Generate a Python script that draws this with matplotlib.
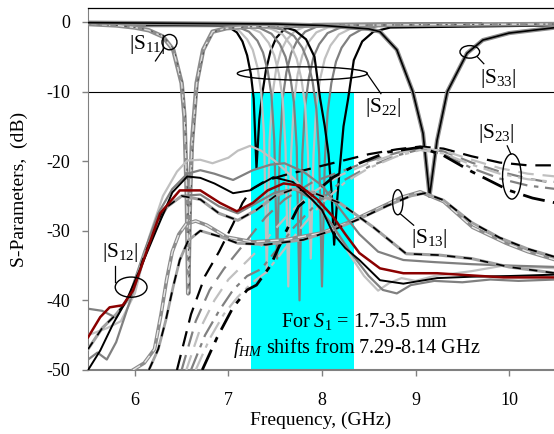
import matplotlib
matplotlib.use("Agg")
import matplotlib.pyplot as plt
from matplotlib.patches import Ellipse

plt.rcParams['font.family'] = ['Liberation Serif', 'DejaVu Serif']
plt.rcParams['mathtext.fontset'] = 'custom'
plt.rcParams['mathtext.rm'] = 'Liberation Serif'
plt.rcParams['mathtext.it'] = 'Liberation Serif:italic'
plt.rcParams['axes.unicode_minus'] = False

# ---------------- data ----------------
# shaded f_HM band
band_lo, band_hi = 7.24, 8.34
band_bottom, band_top = -50, -10

# |S11| (dip near 6.56 GHz)
s11_x = [5.5, 5.8, 6.0, 6.15, 6.3, 6.41, 6.5, 6.53, 6.555, 6.57, 6.59, 6.61, 6.66,
         6.73, 6.83, 6.98, 7.2, 7.5, 8.0, 9.0, 10.5]
s11_y = [-0.3, -0.5, -0.8, -1.2, -2.1, -4.0, -8.8, -13.6, -25, -39, -25, -17.4, -8.8,
         -4.0, -1.4, -0.9, -0.7, -0.6, -0.5, -0.4, -0.3]

# |S33| (dip near 9.15 GHz)
s33_x = [5.5, 6.5, 7.5, 8.0, 8.3, 8.5, 8.62, 8.8, 8.97, 9.08, 9.15, 9.23, 9.34,
         9.55, 9.72, 10.0, 10.5]
s33_y = [-0.1, -0.2, -0.3, -0.5, -0.8, -1.0, -1.4, -4.0, -10, -16, -25, -17, -10,
         -4.5, -2.6, -1.6, -0.8]

# |S22| resonances for S1 = 1.7 ... 3.5 mm (offsets from each centre, GHz)
s22_dx = [-2.0, -0.6, -0.42, -0.3, -0.21, -0.15, -0.1, -0.06, -0.03, 0,
          0.03, 0.06, 0.1, 0.15, 0.21, 0.3, 0.42, 0.6, 2.4]
s22_centres = [7.30, 7.41, 7.52, 7.64, 7.76, 7.88, 8.00, 8.13]
s22_colors = ['black', 'silver', 'grey', 'silver', 'grey', 'silver', 'grey', 'black']
s22_db = [
    [-0.2, -0.3, -0.5, -0.7, -1.5, -2.8, -4.8, -7.5, -11, -21, -14, -10.5, -7, -4.2, -2.3, -1.0, -0.5, -0.3, -0.2],
    [-0.3, -0.3, -0.6, -1.2, -2.5, -4.0, -6.5, -10, -16, -36, -17, -10.5, -6.8, -4.2, -2.6, -1.3, -0.6, -0.3, -0.3],
    [-0.4, -0.4, -0.7, -1.4, -2.7, -4.4, -7.0, -10.5, -17, -34, -18, -11, -7.2, -4.5, -2.8, -1.4, -0.7, -0.4, -0.3],
    [-0.2, -0.4, -0.8, -1.5, -3.0, -4.8, -7.5, -11, -18, -38, -19, -11.5, -7.5, -4.8, -3.0, -1.5, -0.8, -0.4, -0.3],
    [-0.5, -0.5, -0.9, -1.7, -3.2, -5.0, -7.8, -11.5, -18, -40, -19, -12, -8.0, -5.0, -3.2, -1.6, -0.9, -0.5, -0.4],
    [-0.3, -0.5, -1.0, -1.8, -3.4, -5.3, -8.2, -12, -19, -34, -19, -12, -8.2, -5.3, -3.4, -1.8, -1.0, -0.5, -0.3],
    [-0.6, -0.6, -1.1, -2.0, -3.7, -5.7, -8.6, -12.5, -19, -38, -20, -13, -8.8, -5.7, -3.7, -2.0, -1.1, -0.6, -0.4],
    [-0.4, -0.5, -1.2, -2.5, -5.0, -11, -15, -19, -24, -32, -26, -21, -15, -11, -5.5, -2.8, -1.4, -0.8, -0.5],
]

# |S12| family (solid)
s12_black_x = [5.5, 5.63, 5.77, 5.91, 6.05, 6.23, 6.4, 6.56, 6.7, 6.85, 7.05, 7.23, 7.48, 7.69,
               7.87, 8.0, 8.12, 8.25, 8.4, 8.62, 8.87, 9.05, 9.23, 9.6, 10.0, 10.5]
s12_black_y = [-50, -47.2, -43.3, -40, -35.7, -29.9, -24.5, -22.2, -22.4, -23.2, -24.6, -24.2, -22.3, -23,
               -25.2, -27, -30.4, -32.5, -34.2, -37.1, -37.6, -37.2, -36.8, -36.6, -36.5, -36.3]
s12_red_x = [5.5, 5.63, 5.73, 5.87, 5.98, 6.13, 6.27, 6.48, 6.7, 6.91, 7.09, 7.26, 7.42, 7.59,
             7.76, 7.95, 8.12, 8.25, 8.4, 8.62, 8.87, 9.23, 9.58, 9.94, 10.5]
s12_red_y = [-45.3, -42.4, -41, -40.7, -38.6, -32.8, -27.5, -24.2, -24.2, -26, -27.2, -26, -24.2, -23.2,
             -23.5, -25.5, -28, -30.5, -33.2, -35.4, -36.1, -36.1, -36.4, -36.7, -36.7]
s12_grey_x = [5.5, 5.65, 5.8, 5.95, 6.1, 6.25, 6.4, 6.56, 6.7, 6.85, 7.05, 7.26, 7.45, 7.6,
              7.8, 8.0, 8.2, 8.4, 8.6, 8.87, 9.2, 9.6, 10.0, 10.5]
s12_grey_y = [-41.2, -41.5, -42.5, -39, -33, -27.5, -24, -21.8, -21.3, -21.8, -22.7, -21.3, -20.5, -20.3,
              -21.5, -23.5, -27, -30.5, -33, -34.2, -34.5, -34.8, -35, -35.2]
s12_light_x = [5.5, 5.7, 5.85, 6.0, 6.15, 6.3, 6.45, 6.56, 6.7, 6.83, 7.0, 7.1, 7.23, 7.35, 7.5,
               7.7, 7.9, 8.1, 8.3, 8.45, 8.6, 8.72, 8.85, 9.0, 9.2, 9.6, 9.94, 10.5]
s12_light_y = [-45, -44, -43, -39, -31, -25, -21.5, -19.9, -19.8, -20.3, -19.5, -18.5, -17.8, -18.5, -20,
               -22.5, -25.5, -29, -33.5, -36.5, -38.6, -37.5, -36.8, -37.2, -36.5, -35.8, -35, -35.4]
s12_low_x = [5.5, 5.6, 5.7, 5.8, 5.9, 6.05, 6.2, 6.35, 6.5, 6.7, 6.9, 7.1, 7.3, 7.5, 7.7, 7.9,
             8.1, 8.3, 8.5, 8.65, 8.8, 8.95, 9.2, 9.5, 9.8, 10.1, 10.5]
s12_low_y = [-48.5, -47.5, -48.5, -46, -42, -36, -30, -26.5, -25, -24.8, -26.5, -27.5, -26, -24.5, -24, -25.5,
             -29, -33, -36.5, -38.5, -39, -37.8, -37.2, -37.4, -37, -37.2, -37]
s12_dash_x = [5.5, 5.65, 5.8, 5.95, 6.1, 6.3, 6.5, 6.7, 6.9, 7.1, 7.3, 7.5, 7.7, 7.9, 8.19,
              8.55, 8.9, 9.26, 9.6, 10.0, 10.5]
s12_dash_y = [-47, -44, -42, -39.5, -33.5, -27, -25, -25.5, -27.5, -28.5, -27, -25, -24, -24.5, -26,
              -29.5, -33.3, -33.5, -34, -35.2, -36.1]

# |S13| family
s13_a_x = [5.98, 6.1, 6.21, 6.28, 6.34, 6.4, 6.47, 6.55, 6.65, 6.77, 6.98, 7.26, 7.6, 8.0,
           8.3, 8.6, 8.85, 9.05, 9.3, 9.61, 9.97, 10.2, 10.5]
s13_a_y = [-50, -49, -47, -42, -37, -33, -30.5, -29, -28.6, -29.2, -30.9, -31.6, -31.3, -30.3,
           -28.7, -26.8, -25.2, -24.4, -25.8, -29.5, -31.8, -33, -34.2]
s13_b_x = [6.15, 6.25, 6.33, 6.41, 6.48, 6.57, 6.7, 6.9, 7.1, 7.4, 7.8, 8.1, 8.4, 8.7,
           8.95, 9.1, 9.3, 9.6, 9.9, 10.2, 10.5]
s13_b_y = [-50, -47, -42.9, -38, -34.2, -31.4, -30, -30.8, -31.8, -32, -31.3, -30, -28.3, -26.4,
           -25, -24.6, -25.6, -28.8, -31, -32.6, -33.8]

# |S23| family (dashed)
s23_x = [
    [6.45, 6.6, 6.75, 6.9, 7.05, 7.15, 7.25, 7.4, 7.6, 7.9, 8.2, 8.5, 8.8, 9.05, 9.3, 9.6, 9.9, 10.2, 10.5],
    [6.5, 6.65, 6.8, 6.95, 7.1, 7.25, 7.4, 7.6, 7.9, 8.2, 8.5, 8.8, 9.05, 9.3, 9.6, 9.9, 10.2, 10.5],
    [6.55, 6.7, 6.85, 7.0, 7.15, 7.3, 7.45, 7.65, 7.9, 8.2, 8.5, 8.8, 9.05, 9.3, 9.6, 9.9, 10.2, 10.5],
    [6.6, 6.75, 6.9, 7.05, 7.2, 7.35, 7.5, 7.7, 7.95, 8.2, 8.5, 8.8, 9.05, 9.3, 9.6, 9.9, 10.2, 10.5],
    [6.65, 6.8, 6.95, 7.1, 7.25, 7.4, 7.55, 7.75, 8.0, 8.25, 8.5, 8.8, 9.05, 9.3, 9.6, 9.9, 10.2, 10.5],
    [6.72, 6.88, 7.05, 7.2, 7.3, 7.45, 7.6, 7.75, 7.9, 8.12, 8.4, 8.7, 9.05, 9.3, 9.6, 10.0, 10.25, 10.5],
]
s23_y = [
    [-50, -42, -36.5, -33, -29, -26, -24, -22.8, -22, -21, -20, -19, -18.3, -17.9, -18.2, -19.3, -20.2, -20.6, -20.6],
    [-50, -43, -38.5, -35.5, -33, -30.5, -28, -25.5, -23, -21.5, -20, -18.8, -18.1, -18.6, -20.2, -21.5, -22.5, -23.2],
    [-50, -44, -40, -37, -35, -33, -30.5, -27.5, -24.5, -22, -20.3, -18.9, -18.2, -18.5, -19.8, -21, -21.8, -22.2],
    [-50, -45, -41.5, -38.5, -36.5, -35.5, -33, -29.5, -26, -23, -20.8, -19.2, -18.3, -19, -21, -22.5, -23.5, -24],
    [-50, -45.5, -42, -39.5, -37.5, -36, -33.5, -30, -26, -23, -21, -19.3, -18.4, -18.9, -20.5, -21.8, -22.6, -23],
    [-50, -45.3, -41, -38.5, -37.8, -35, -30.5, -26.5, -24.8, -22.3, -20.3, -18.7, -18, -19.2, -21.5, -24.2, -25.3, -26],
]
s23_colors = ['black', 'grey', 'silver', 'grey', 'silver', 'black']

# ---------------- figure ----------------
fig = plt.figure(figsize=(5.54, 4.34), dpi=100)
ax = fig.add_axes([0.159, 0.1475, 0.841, 0.834])

ax.fill_between([band_lo, band_hi], band_bottom, band_top, color='#00FFFF', lw=0, zorder=0)
ax.axhline(-10, color='black', lw=0.8, zorder=1)

# S22 resonances
for c, col, db in zip(s22_centres, s22_colors, s22_db):
    xs = [c + d for d in s22_dx]
    ax.plot(xs, db, color=col, lw=1.6, zorder=3)

# S11
ax.plot(s11_x, s11_y, color='#8c8c8c', lw=3.2, zorder=3)
ax.plot(s11_x, s11_y, color='#dddddd', lw=1.0, ls=(0, (6, 4)), zorder=3)
ax.plot([x + 0.01 for x in s11_x], s11_y, color='#555555', lw=0.8, ls=(0, (2, 6)), zorder=3)

# S33
ax.plot(s33_x, s33_y, color='#8c8c8c', lw=3.0, zorder=3)
ax.plot(s33_x, s33_y, color='black', lw=1.2, zorder=3)

# S23
s23_styles = [(0, (7, 4)), (0, (7, 4)), (0, (7, 4)), (0, (8, 3, 2, 3)), (0, (8, 3, 2, 3)), (0, (8, 3, 2, 3))]
s23_lw = [1.6, 1.6, 1.6, 1.6, 1.6, 2.0]
for xs, ys, col, st, w in zip(s23_x, s23_y, s23_colors, s23_styles, s23_lw):
    ax.plot(xs, ys, color=col, lw=w, ls=st, zorder=4)

# S13
ax.plot(s13_a_x, s13_a_y, color='#8c8c8c', lw=2.6, zorder=4)
ax.plot(s13_a_x, s13_a_y, color='#e6e6e6', lw=1.0, ls=(0, (6, 4)), zorder=4)
ax.plot(s13_b_x, s13_b_y, color='#a0a0a0', lw=2.0, zorder=4)
ax.plot(s13_b_x, s13_b_y, color='black', lw=1.3, ls=(0, (5, 5)), zorder=4)

# S12
ax.plot(s12_light_x, s12_light_y, color='silver', lw=1.6, zorder=5)
ax.plot(s12_low_x, s12_low_y, color='grey', lw=1.6, zorder=5)
ax.plot(s12_grey_x, s12_grey_y, color='grey', lw=1.6, zorder=5)
ax.plot(s12_dash_x, s12_dash_y, color='#a0a0a0', lw=2.2, zorder=5)
ax.plot(s12_dash_x, s12_dash_y, color='black', lw=1.2, ls=(0, (5, 5)), zorder=5)
ax.plot(s12_black_x, s12_black_y, color='black', lw=1.4, zorder=5)
ax.plot(s12_red_x, s12_red_y, color='#8B0000', lw=1.8, zorder=6)

# annotations: ellipses, leaders and labels
ell_kw = dict(fill=False, ec='black', lw=1.0, zorder=8)
lab_fs = 15.5
ax.add_patch(Ellipse((6.37, -2.9), 0.16, 2.2, **ell_kw))
ax.plot([6.31, 6.22], [-3.8, -5.6], color='black', lw=0.9, zorder=8)
ax.text(6.13, -3.3, r'|S$_{11}$|', fontsize=lab_fs, ha='center', va='center', zorder=9)

ax.add_patch(Ellipse((7.79, -7.4), 1.39, 1.9, **ell_kw))
ax.plot([8.48, 8.63], [-7.4, -10.3], color='black', lw=0.9, zorder=8)
ax.text(8.66, -12.3, r'|S$_{22}$|', fontsize=lab_fs, ha='center', va='center', zorder=9)

ax.add_patch(Ellipse((9.58, -4.3), 0.21, 1.8, **ell_kw))
ax.plot([9.66, 9.73], [-5.0, -6.0], color='black', lw=0.9, zorder=8)
ax.text(9.89, -8.1, r'|S$_{33}$|', fontsize=lab_fs, ha='center', va='center', zorder=9)

ax.add_patch(Ellipse((10.03, -22.2), 0.2, 6.5, **ell_kw))
ax.plot([9.98, 10.02], [-17.8, -19.0], color='black', lw=0.9, zorder=8)
ax.text(9.86, -16.0, r'|S$_{23}$|', fontsize=lab_fs, ha='center', va='center', zorder=9)

ax.add_patch(Ellipse((8.81, -25.9), 0.11, 3.6, **ell_kw))
ax.plot([8.84, 8.98], [-27.6, -29.2], color='black', lw=0.9, zorder=8)
ax.text(9.15, -31.1, r'|S$_{13}$|', fontsize=lab_fs, ha='center', va='center', zorder=9)

ax.add_patch(Ellipse((5.96, -38.1), 0.34, 2.9, **ell_kw))
ax.plot([5.79, 5.79], [-35.0, -37.4], color='black', lw=0.9, zorder=8)
ax.text(5.84, -33.1, r'|S$_{12}$|', fontsize=lab_fs, ha='center', va='center', zorder=9)

ax.text(8.45, -43.0, r'For $S_{\mathit{1}}$ = 1.7-3.5 mm', fontsize=14.5,
        ha='center', va='center', zorder=9)
ax.text(8.37, -46.9, r'$f_{HM}$ shifts from 7.29-8.14 GHz', fontsize=14.5,
        ha='center', va='center', zorder=9)

# axes
ax.set_xlim(5.5, 10.48)
ax.set_ylim(-50, 2)
ax.set_xticks([6, 7, 8, 9, 10])
ax.set_yticks([0, -10, -20, -30, -40, -50])
ax.tick_params(direction='out', length=4, width=1, colors='#808080', labelcolor='black',
               labelsize=13)
ax.tick_params(axis='x', pad=12)
ax.tick_params(axis='y', pad=9)
ax.spines['right'].set_visible(False)
ax.spines['bottom'].set_color('#808080')
ax.spines['bottom'].set_linewidth(1.5)
ax.spines['left'].set_color('#808080')
ax.spines['top'].set_color('black')
ax.spines['top'].set_linewidth(0.9)
ax.set_xlabel('Frequency, (GHz)', fontsize=14)
ax.set_ylabel('S-Parameters,  (dB)', fontsize=14)
ax.xaxis.set_label_coords(0.5, -0.115)
ax.yaxis.set_label_coords(-0.13, 0.5)

fig.savefig('out.png', dpi=100)
